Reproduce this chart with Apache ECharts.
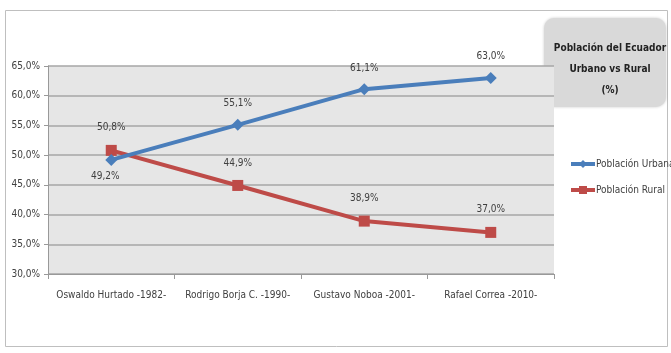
<!DOCTYPE html>
<html>
<head>
<meta charset="utf-8">
<script src="https://cdn.jsdelivr.net/npm/echarts@6/dist/echarts.min.js"></script>
<style>
  html, body { margin: 0; padding: 0; background: #fff; }
  #main { width: 671px; height: 353px; }
</style>
</head>
<body>
<div id="main"></div>
<script>
// datos
const categories = ["Oswaldo Hurtado -1982-", "Rodrigo Borja C. -1990-", "Gustavo Noboa -2001-", "Rafael Correa -2010-"];
const urbana = [49.2, 55.1, 61.1, 63.0];
const rural = [50.8, 44.9, 38.9, 37.0];
const titleLines = ["Población del Ecuador", "Urbano vs Rural", "(%)"];

const font = "'DejaVu Sans Condensed', 'Liberation Sans Narrow', Roboto, sans-serif";
const fmt = (v) => v.toFixed(1).replace(".", ",") + "%";

const chart = echarts.init(document.getElementById("main"));
const option = {
  backgroundColor: "#fff",
  animation: false,
  textStyle: { fontFamily: font },
  grid: { left: 48, top: 66, width: 506, height: 208, containLabel: false, show: true, backgroundColor: "#e6e6e6", borderWidth: 0 },
  title: {
    text: titleLines.join("\n"),
    left: 605, top: 33, textAlign: "center",
    textStyle: { fontFamily: font, fontSize: 10, fontWeight: "bold", color: "#222", lineHeight: 21 }
  },
  legend: {
    orient: "vertical", left: 564, top: 154, itemGap: 16,
    itemWidth: 24, itemHeight: 10,
    lineStyle: { width: 4 },
    textStyle: { fontFamily: font, fontSize: 10, color: "#404040", padding: [0, 0, 0, -4] },
    data: ["Población Urbana", "Población Rural"]
  },
  graphic: [
    { type: "rect", shape: { x: 5.5, y: 10.5, width: 662, height: 336 }, style: { fill: "none", stroke: "#bfbfbf", lineWidth: 1 }, z: -10 },
    { type: "rect", shape: { x: 544, y: 18, width: 122, height: 89, r: 10 }, style: { fill: "#d9d9d9", shadowBlur: 3, shadowColor: "rgba(0,0,0,0.2)" }, z: -1 }
  ],
  xAxis: {
    type: "category", data: categories, boundaryGap: true,
    axisLine: { lineStyle: { color: "#999" } },
    axisTick: { show: true, length: 5, lineStyle: { color: "#999" } },
    axisLabel: { fontFamily: font, fontSize: 10, color: "#404040", margin: 16, interval: 0 }
  },
  yAxis: {
    type: "value", min: 30, max: 65, interval: 5,
    axisLine: { show: true, lineStyle: { color: "#999" } },
    axisTick: { show: true, length: 4, lineStyle: { color: "#999" } },
    axisLabel: { fontFamily: font, fontSize: 10, color: "#404040", formatter: (v) => fmt(v), margin: 8 },
    splitLine: { lineStyle: { color: "#a6a6a6", width: 1.5 } }
  },
  series: [
    {
      name: "Población Urbana", type: "line", data: urbana,
      symbol: "diamond", symbolSize: 12,
      lineStyle: { color: "#4a7ebb", width: 4 },
      itemStyle: { color: "#4a7ebb" },
      label: {
        show: true, fontFamily: font, fontSize: 10, color: "#404040",
        formatter: (p) => fmt(p.value), distance: 10,
        position: "top"
      },
      labelLayout: (p) => p.dataIndex === 0 ? { dx: -6, dy: 38 } : {},
      z: 3
    },
    {
      name: "Población Rural", type: "line", data: rural,
      symbol: "rect", symbolSize: 11,
      lineStyle: { color: "#be4b48", width: 4 },
      itemStyle: { color: "#be4b48" },
      label: {
        show: true, fontFamily: font, fontSize: 10, color: "#404040",
        formatter: (p) => fmt(p.value), distance: 12, position: "top"
      },
      z: 2
    }
  ]
};
chart.setOption(option);
</script>
</body>
</html>
